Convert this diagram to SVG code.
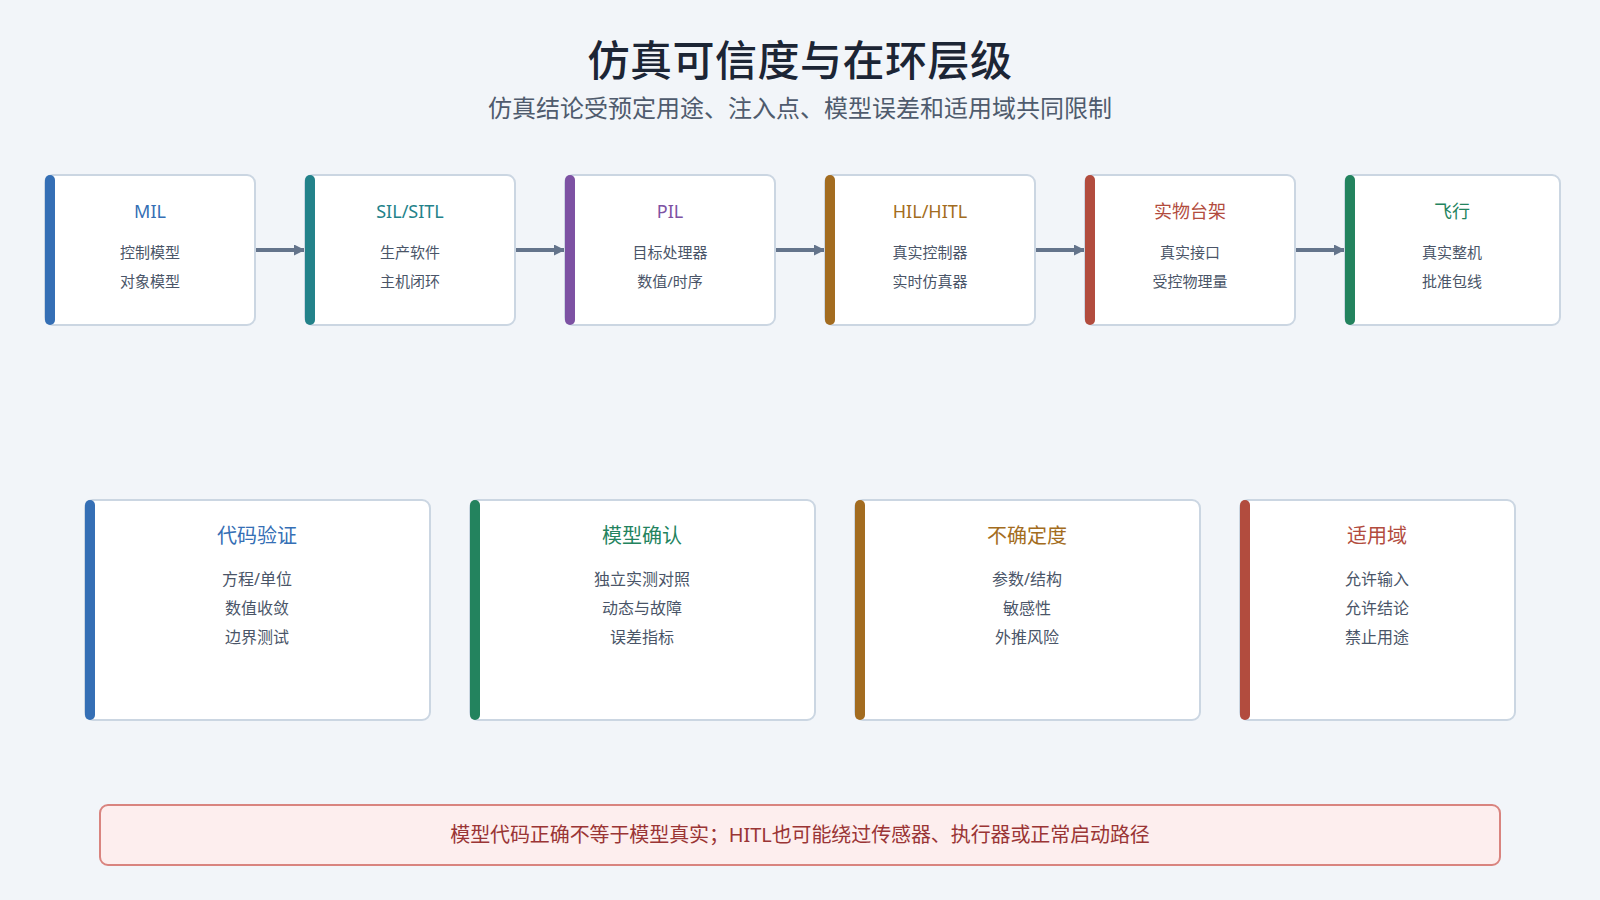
<svg xmlns="http://www.w3.org/2000/svg" width="1600" height="900" viewBox="0 0 1600 900">
<defs>
<style>
text{font-family:"Noto Sans","Noto Sans CJK SC",sans-serif;text-anchor:middle}
.box{fill:#ffffff;stroke:#cbd6e2;stroke-width:2}
.title{font-size:42px;font-weight:500;fill:#1c2535;letter-spacing:0.5px}
.subtitle{font-size:24px;fill:#4f5b6d}
.th{font-size:18px}
.ts{font-size:15px;fill:#4a5568}
.bh{font-size:20px}
.bs{font-size:16px;fill:#4a5568}
.conn{stroke:#64748b;stroke-width:4;fill:none}
.note{fill:#fdeeee;stroke:#d9847f;stroke-width:2}
.notet{font-size:20px;fill:#9a3535;letter-spacing:-0.1px}
</style>
<marker id="ah" markerWidth="11" markerHeight="11" refX="11" refY="5.5" orient="auto" markerUnits="userSpaceOnUse">
<path d="M0,0 L11,5.5 L0,11 Z" fill="#64748b"/>
</marker>
</defs>
<rect width="1600" height="900" fill="#f2f5f9"/>
<text class="title" x="800" y="76">仿真可信度与在环层级</text>
<text class="subtitle" x="800" y="117">仿真结论受预定用途、注入点、模型误差和适用域共同限制</text>

<g id="connectors">
<line class="conn" x1="255" y1="250" x2="305" y2="250" marker-end="url(#ah)"/>
<line class="conn" x1="515" y1="250" x2="565" y2="250" marker-end="url(#ah)"/>
<line class="conn" x1="775" y1="250" x2="825" y2="250" marker-end="url(#ah)"/>
<line class="conn" x1="1035" y1="250" x2="1085" y2="250" marker-end="url(#ah)"/>
<line class="conn" x1="1295" y1="250" x2="1345" y2="250" marker-end="url(#ah)"/>
</g>

<g id="mil">
<rect class="box" x="45" y="175" width="210" height="150" rx="8"/>
<rect x="45" y="175" width="10" height="150" rx="5" fill="#356fb5"/>
<text class="th" x="150" y="218" fill="#356fb5">MIL</text>
<text class="ts" x="150" y="258">控制模型</text>
<text class="ts" x="150" y="287">对象模型</text>
</g>
<g id="sil">
<rect class="box" x="305" y="175" width="210" height="150" rx="8"/>
<rect x="305" y="175" width="10" height="150" rx="5" fill="#23828a"/>
<text class="th" x="410" y="218" fill="#23828a">SIL/SITL</text>
<text class="ts" x="410" y="258">生产软件</text>
<text class="ts" x="410" y="287">主机闭环</text>
</g>
<g id="pil">
<rect class="box" x="565" y="175" width="210" height="150" rx="8"/>
<rect x="565" y="175" width="10" height="150" rx="5" fill="#7d52a3"/>
<text class="th" x="670" y="218" fill="#7d52a3">PIL</text>
<text class="ts" x="670" y="258">目标处理器</text>
<text class="ts" x="670" y="287">数值/时序</text>
</g>
<g id="hil">
<rect class="box" x="825" y="175" width="210" height="150" rx="8"/>
<rect x="825" y="175" width="10" height="150" rx="5" fill="#a36c20"/>
<text class="th" x="930" y="218" fill="#a36c20">HIL/HITL</text>
<text class="ts" x="930" y="258">真实控制器</text>
<text class="ts" x="930" y="287">实时仿真器</text>
</g>
<g id="rig">
<rect class="box" x="1085" y="175" width="210" height="150" rx="8"/>
<rect x="1085" y="175" width="10" height="150" rx="5" fill="#b24c3e"/>
<text class="th" x="1190" y="218" fill="#b24c3e">实物台架</text>
<text class="ts" x="1190" y="258">真实接口</text>
<text class="ts" x="1190" y="287">受控物理量</text>
</g>
<g id="flight">
<rect class="box" x="1345" y="175" width="215" height="150" rx="8"/>
<rect x="1345" y="175" width="10" height="150" rx="5" fill="#23835e"/>
<text class="th" x="1452" y="218" fill="#23835e">飞行</text>
<text class="ts" x="1452" y="258">真实整机</text>
<text class="ts" x="1452" y="287">批准包线</text>
</g>

<g id="verification">
<rect class="box" x="85" y="500" width="345" height="220" rx="8"/>
<rect x="85" y="500" width="10" height="220" rx="5" fill="#356fb5"/>
<text class="bh" x="257" y="543" fill="#356fb5">代码验证</text>
<text class="bs" x="257" y="585">方程/单位</text>
<text class="bs" x="257" y="614">数值收敛</text>
<text class="bs" x="257" y="643">边界测试</text>
</g>
<g id="validation">
<rect class="box" x="470" y="500" width="345" height="220" rx="8"/>
<rect x="470" y="500" width="10" height="220" rx="5" fill="#23835e"/>
<text class="bh" x="642" y="543" fill="#23835e">模型确认</text>
<text class="bs" x="642" y="585">独立实测对照</text>
<text class="bs" x="642" y="614">动态与故障</text>
<text class="bs" x="642" y="643">误差指标</text>
</g>
<g id="uncertainty">
<rect class="box" x="855" y="500" width="345" height="220" rx="8"/>
<rect x="855" y="500" width="10" height="220" rx="5" fill="#a36c20"/>
<text class="bh" x="1027" y="543" fill="#a36c20">不确定度</text>
<text class="bs" x="1027" y="585">参数/结构</text>
<text class="bs" x="1027" y="614">敏感性</text>
<text class="bs" x="1027" y="643">外推风险</text>
</g>
<g id="domain">
<rect class="box" x="1240" y="500" width="275" height="220" rx="8"/>
<rect x="1240" y="500" width="10" height="220" rx="5" fill="#b24c3e"/>
<text class="bh" x="1377" y="543" fill="#b24c3e">适用域</text>
<text class="bs" x="1377" y="585">允许输入</text>
<text class="bs" x="1377" y="614">允许结论</text>
<text class="bs" x="1377" y="643">禁止用途</text>
</g>

<g id="note">
<rect class="note" x="100" y="805" width="1400" height="60" rx="8"/>
<text class="notet" x="800" y="842">模型代码正确不等于模型真实；HITL也可能绕过传感器、执行器或正常启动路径</text>
</g>
</svg>
